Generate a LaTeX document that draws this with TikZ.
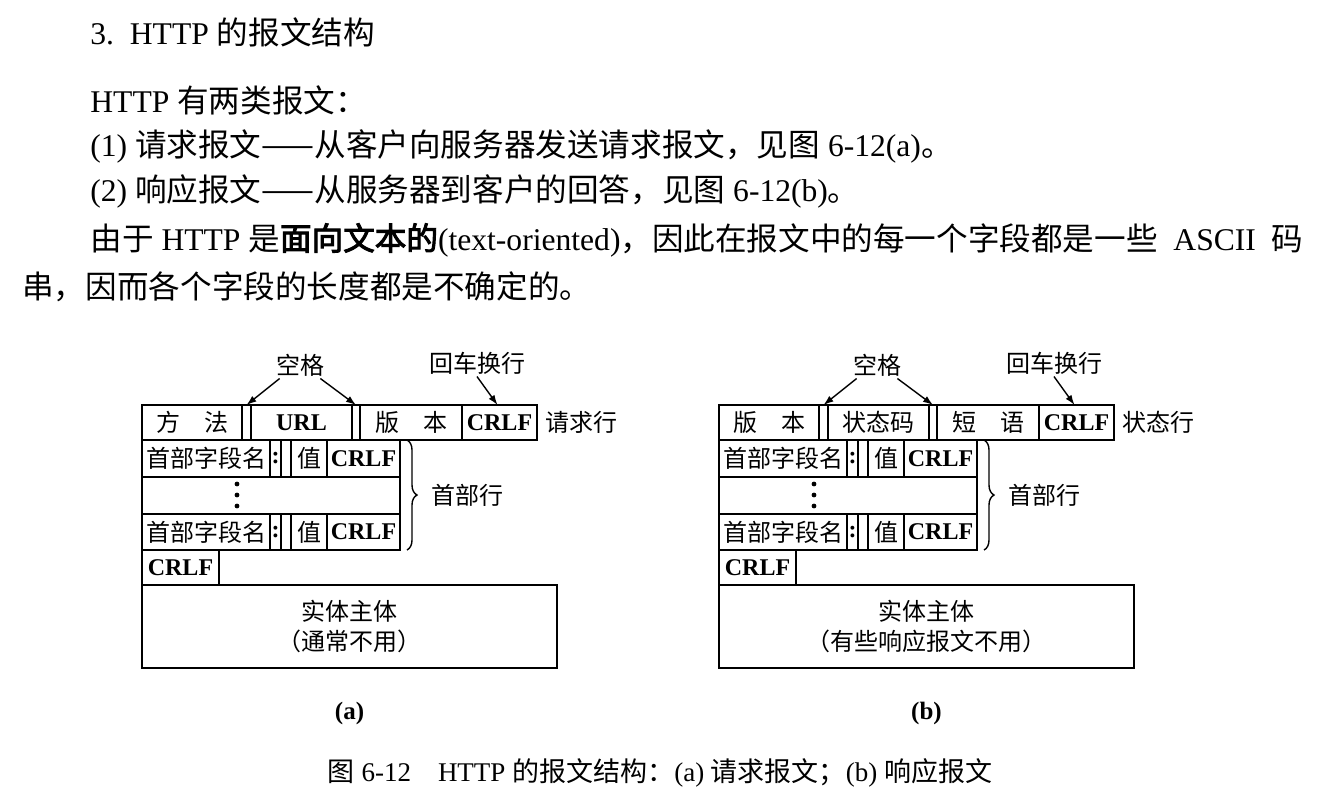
\documentclass[tikz,border=0pt]{standalone}
\usepackage{fontspec}
\setmainfont{Liberation Serif}
\newfontfamily\zh[AutoFakeBold=3]{Noto Sans CJK SC}
\usepackage{tikz}
\usetikzlibrary{arrows.meta,positioning,decorations.pathreplacing}

\newcommand\latb[1]{{\rmfamily\bfseries #1}}

\tikzset{
  fld/.style={draw,line width=0.9pt,inner sep=0pt,outer sep=0pt,align=center,
    font=\fontsize{12}{15}\selectfont\zh},
  arr/.style={line width=0.7pt,-{Latex[length=5pt,width=3.5pt]}},
  note/.style={inner sep=1pt,font=\fontsize{12}{15}\selectfont\zh},
  para/.style={anchor=west,inner sep=0pt,font=\fontsize{15.8}{19}\selectfont},
  brc/.style={decorate,decoration={brace,amplitude=5pt},line width=0.7pt},
  sub/.style={inner sep=0pt,font=\fontsize{12.5}{14}\selectfont\bfseries}
}

\begin{document}
\begin{tikzpicture}[x=0.5pt,y=-0.5pt]
  \useasboundingbox (0,0) rectangle (1342,810);
  % texte au-dessus
  \node[para] (t0) at (90,32) {3.\enspace HTTP {\zh 的报文结构}};
  \node[para] (t1) at (90,100) {HTTP {\zh 有两类报文：}};
  \node[para] (t2) at (90,146) {(1) {\zh 请求报文——从客户向服务器发送请求报文，见图} 6-12(a){\zh 。}};
  \node[para] (t3) at (90,191) {(2) {\zh 响应报文——从服务器到客户的回答，见图} 6-12(b){\zh 。}};
  \node[para] (t4) at (90,240) {{\zh 由于}\ HTTP\ {\zh 是\textbf{面向文本的}}(text-oriented){\zh ，因此在报文中的每一个字段都是一些}\ \ ASCII\ \ {\zh 码}};
  \node[para] (t5) at (22,287) {{\zh 串，因而各个字段的长度都是不确定的。}};
  % une case : nom, x1, x2, y1, y2, texte
  \def\fld#1#2#3#4#5#6{\node[fld,minimum width={(#3-#2)*0.5pt},minimum height={(#5-#4)*0.5pt}]
     (#1) at ({(#2+#3)/2},{(#4+#5)/2}) {#6};}
  % un message : prefixe, decalage, champs 1-3, ligne, corps, etiquette
  \def\httpmsg#1#2#3#4#5#6#7#8{\begin{scope}[xshift=#2]
    \fld{#1f1}{142}{242}{405}{440}{#3}
    \fld{#1s1}{242}{251}{405}{440}{}
    \fld{#1f2}{251}{352}{405}{440}{#4}
    \fld{#1s2}{352}{360}{405}{440}{}
    \fld{#1f3}{360}{462}{405}{440}{#5}
    \fld{#1cr}{462}{537}{405}{440}{\latb{CRLF}}
    \node[note,right=3pt of #1cr] (#1line) {#6};
    \node[note] (#1sp) at (300,365) {空格};
    \node[note] (#1nl) at (477,363) {回车换行};
    \draw[arr] ([xshift=3pt]#1sp.south west) -- (#1s1.north);
    \draw[arr] ([xshift=-3pt]#1sp.south east) -- (#1s2.north);
    \draw[arr] (#1nl.south) -- ([xshift=-1pt]#1cr.north);
    \foreach \r/\ya/\yb in {a/440/477,b/514/550}{
      \fld{#1n\r}{142}{270}{\ya}{\yb}{首部字段名}
      \fld{#1c\r}{270}{281}{\ya}{\yb}{\latb{:}}
      \fld{#1p\r}{281}{291}{\ya}{\yb}{}
      \fld{#1v\r}{291}{327}{\ya}{\yb}{值}
      \fld{#1e\r}{327}{400}{\ya}{\yb}{\latb{CRLF}}}
    \fld{#1dots}{142}{400}{477}{514}{}
    \foreach \dy in {-11,0,11} \fill (237,{495+\dy}) circle (2.4);
    \draw[brc] ([xshift=3.5pt]#1ea.north east) -- ([xshift=3.5pt]#1eb.south east)
       node[note,midway,right=11pt] (#1hdr) {首部行};
    \fld{#1end}{142}{219}{550}{585}{\latb{CRLF}}
    \fld{#1body}{142}{557}{585}{668}{实体主体\\#7}
    \node[sub,below=17pt of #1body] (#1tag) {#8};
  \end{scope}}
  \httpmsg{a}{0pt}{方\quad 法}{\latb{URL}}{版\quad 本}{请求行}{（通常不用）}{(a)}
  \httpmsg{b}{288.5pt}{版\quad 本}{状态码}{短\quad 语}{状态行}{（有些响应报文不用）}{(b)}
  % legende
  \node[note,font=\fontsize{13.5}{16}\selectfont] (cap) at (660,773)
     {{\zh 图} 6-12\quad HTTP {\zh 的报文结构：}(a) {\zh 请求报文；}(b) {\zh 响应报文}};
\end{tikzpicture}
\end{document}
